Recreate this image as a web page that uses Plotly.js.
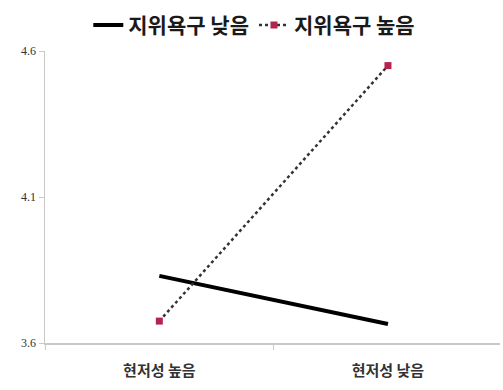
<!DOCTYPE html>
<html>
<head>
<meta charset="utf-8">
<script src="https://cdn.plot.ly/plotly-3.0.1.min.js"></script>
<style>
  html, body { margin: 0; padding: 0; background: #fff; }
  #chart { width: 503px; height: 390px; }
</style>
</head>
<body>
<div id="chart"></div>
<script>
// Salience conditions on the x axis
const categories = ['현저성 높음', '현저성 낮음'];
// Mean scores per status-need group
const lowNeed = [3.83, 3.665];
const highNeed = [3.675, 4.55];
const seriesNames = ['지위욕구 낮음', '지위욕구 높음'];
const yTicks = [3.6, 4.1, 4.6];
const yTickText = ['3.6', '4.1', '4.6'];

const traces = [
  {
    x: categories, y: lowNeed, name: seriesNames[0],
    type: 'scatter', mode: 'lines',
    line: { color: '#000000', width: 4 }
  },
  {
    x: categories, y: highNeed, name: seriesNames[1],
    type: 'scatter', mode: 'lines+markers',
    line: { color: '#333333', width: 2.5, dash: 'dot' },
    marker: { symbol: 'square', size: 7, color: '#b5234f' }
  }
];

const layout = {
  width: 503, height: 390,
  margin: { l: 45, r: 3, t: 51, b: 47 },
  paper_bgcolor: '#ffffff', plot_bgcolor: '#ffffff',
  showlegend: true,
  legend: {
    orientation: 'h', x: 0.46, xanchor: 'center', y: 1.088, yanchor: 'middle',
    font: { family: 'Noto Sans CJK KR, sans-serif', size: 21, color: '#1a1a1a', weight: 'bold' },
    itemwidth: 30, tracegroupgap: 0
  },
  xaxis: {
    type: 'category', range: [-0.5, 1.49],
    showgrid: false, zeroline: false,
    showline: true, linecolor: '#c8c8c8', linewidth: 1.5,
    tickson: 'boundaries', ticks: 'outside', ticklen: 5, tickcolor: '#c8c8c8',
    tickfont: { family: 'Noto Sans CJK KR, sans-serif', size: 15, color: '#333333', weight: 'bold' },
    ticklabelstandoff: 13
  },
  yaxis: {
    range: [3.6, 4.6],
    tickvals: yTicks, ticktext: yTickText,
    showgrid: false, zeroline: false,
    showline: true, linecolor: '#c8c8c8', linewidth: 1.5,
    ticks: 'outside', ticklen: 5, tickcolor: '#c8c8c8',
    tickfont: { family: 'Liberation Serif, serif', size: 12, color: '#333333' }
  }
};

Plotly.newPlot('chart', traces, layout, { displayModeBar: false, staticPlot: true });
</script>
</body>
</html>
